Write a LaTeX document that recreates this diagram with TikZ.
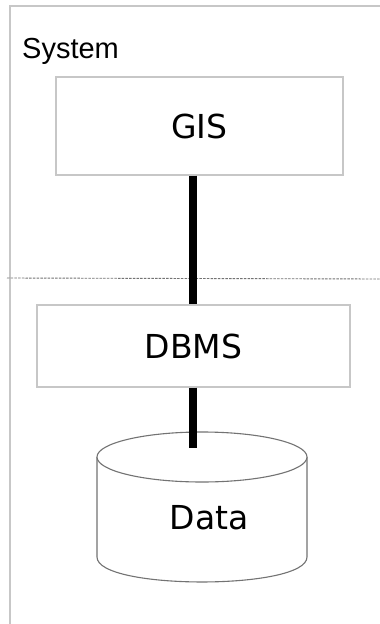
\documentclass[tikz,border=0pt]{standalone}
\usepackage{fontspec}
\setmainfont{Liberation Sans}
\newfontfamily\lblfont{DejaVu Sans}
\begin{document}
\begin{tikzpicture}[x=1pt,y=-1pt,
  box/.style={draw=black!22, line width=1.2pt, fill=white, inner sep=0pt},
  conn/.style={line width=8pt, black},
  framec/.style={draw=black!22, line width=1.3pt},
  cyl/.style={draw=black!55, line width=1.1pt, fill=white},
  lbl/.style={font=\lblfont\fontsize{33}{35}\selectfont}]
\useasboundingbox (0,0) rectangle (380,624);
\fill[white] (0,0) rectangle (380,624);
% frame
\coordinate (fb) at (10,624);
\coordinate (ftl) at (10,6);
\coordinate (fr) at (380,6);
\draw[framec] (fb) -- (ftl) -- (fr);
\node[anchor=base west, inner sep=0pt, font=\fontsize{29}{30}\selectfont] (sys) at (22,58) {System};
% dashed boundary
\coordinate (dl) at (7,278);
\coordinate (dr) at (380,279);
\draw[black!55, line width=0.9pt, dash pattern=on 2.5pt off 1.2pt] (dl) -- (dr);
% boxes
\node[box, lbl, minimum width=287pt, minimum height=98pt] (gis) at (199.5,126) {GIS};
\node[box, lbl, minimum width=313pt, minimum height=82pt] (dbms) at (193.5,346) {DBMS};
% cylinder
\coordinate (dtop) at (193,448);
\draw[cyl] (97,457) -- (97,557) .. controls (97,590.3) and (307,590.3) .. (307,557) -- (307,457);
\draw[cyl] (202,457) ellipse [x radius=105pt, y radius=25pt];
\node[lbl, inner sep=0pt] (data) at (209,518) {Data};
% connectors
\draw[conn] (gis.south -| dtop) -- (dbms.north -| dtop);
\draw[conn] (dbms.south -| dtop) -- (dtop);
\end{tikzpicture}
\end{document}
